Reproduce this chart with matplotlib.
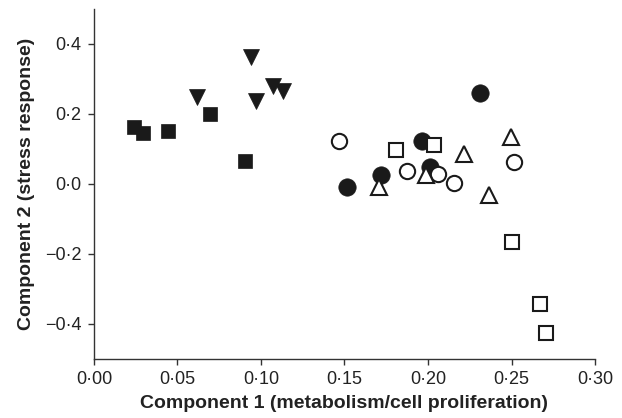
import matplotlib
matplotlib.use("Agg")
import matplotlib.pyplot as plt

# ---- data ----
filled_sq_x = [0.0242, 0.0292, 0.0446, 0.0696, 0.0902]
filled_sq_y = [0.163, 0.146, 0.151, 0.199, 0.064]

filled_tri_x = [0.0616, 0.0938, 0.0970, 0.1070, 0.1133]
filled_tri_y = [0.249, 0.363, 0.237, 0.279, 0.266]

filled_circ_x = [0.2313, 0.1967, 0.1717, 0.1517, 0.2013]
filled_circ_y = [0.260, 0.123, 0.025, -0.009, 0.047]

open_circ_x = [0.1470, 0.1873, 0.2057, 0.2157, 0.2517]
open_circ_y = [0.122, 0.037, 0.028, 0.001, 0.063]

open_sq_x = [0.1807, 0.2033, 0.2503, 0.2673, 0.2707]
open_sq_y = [0.096, 0.111, -0.166, -0.345, -0.426]

open_tri_x = [0.1707, 0.1987, 0.2217, 0.2497, 0.2367]
open_tri_y = [-0.009, 0.025, 0.085, 0.133, -0.032]

x_ticks = [0.00, 0.05, 0.10, 0.15, 0.20, 0.25, 0.30]
x_tick_labels = ["0·00", "0·05", "0·10", "0·15", "0·20", "0·25", "0·30"]
y_ticks = [-0.4, -0.2, 0.0, 0.2, 0.4]
y_tick_labels = ["\u22120·4", "\u22120·2", "0·0", "0·2", "0·4"]

plt.rcParams['font.family'] = ['Liberation Sans', 'DejaVu Sans']

fig = plt.figure(figsize=(6.22, 4.18), dpi=100)
ax = fig.add_axes([0.1511, 0.1419, 0.8055, 0.8373])

k = '#1a1a1a'
ax.plot(filled_sq_x, filled_sq_y, 's', ms=10.5, mfc=k, mec=k, mew=0.5, ls='none', zorder=3)
ax.plot(filled_tri_x, filled_tri_y, 'v', ms=12, mfc=k, mec=k, mew=0.5, ls='none', zorder=3)
ax.plot(filled_circ_x, filled_circ_y, 'o', ms=12.5, mfc=k, mec=k, mew=0.5, ls='none', zorder=3)
ax.plot(open_circ_x, open_circ_y, 'o', ms=11, mfc='white', mec=k, mew=1.5, ls='none', zorder=4)
ax.plot(open_sq_x, open_sq_y, 's', ms=9.5, mfc='white', mec=k, mew=1.5, ls='none', zorder=4)
ax.plot(open_tri_x, open_tri_y, '^', ms=11.5, mfc='white', mec=k, mew=1.5, ls='none', zorder=4)

ax.set_xlim(0, 0.30)
ax.set_ylim(-0.5, 0.5)
ax.set_xticks(x_ticks)
ax.set_xticklabels(x_tick_labels)
ax.set_yticks(y_ticks)
ax.set_yticklabels(y_tick_labels)

for s in ['top', 'right']:
    ax.spines[s].set_visible(False)
for s in ['left', 'bottom']:
    ax.spines[s].set_linewidth(1.0)
    ax.spines[s].set_color('#333333')
ax.tick_params(direction='out', length=4, width=1.0, color='#333333',
               labelsize=13, labelcolor='#222222', pad=5)

ax.set_xlabel("Component 1 (metabolism/cell proliferation)", fontsize=14,
              fontweight='bold', color='#222222', labelpad=5)
ax.set_ylabel("Component 2 (stress response)", fontsize=14,
              fontweight='bold', color='#222222', labelpad=6)
ax.yaxis.set_label_coords(-0.117, 0.5)

fig.savefig("out.png", dpi=100)
